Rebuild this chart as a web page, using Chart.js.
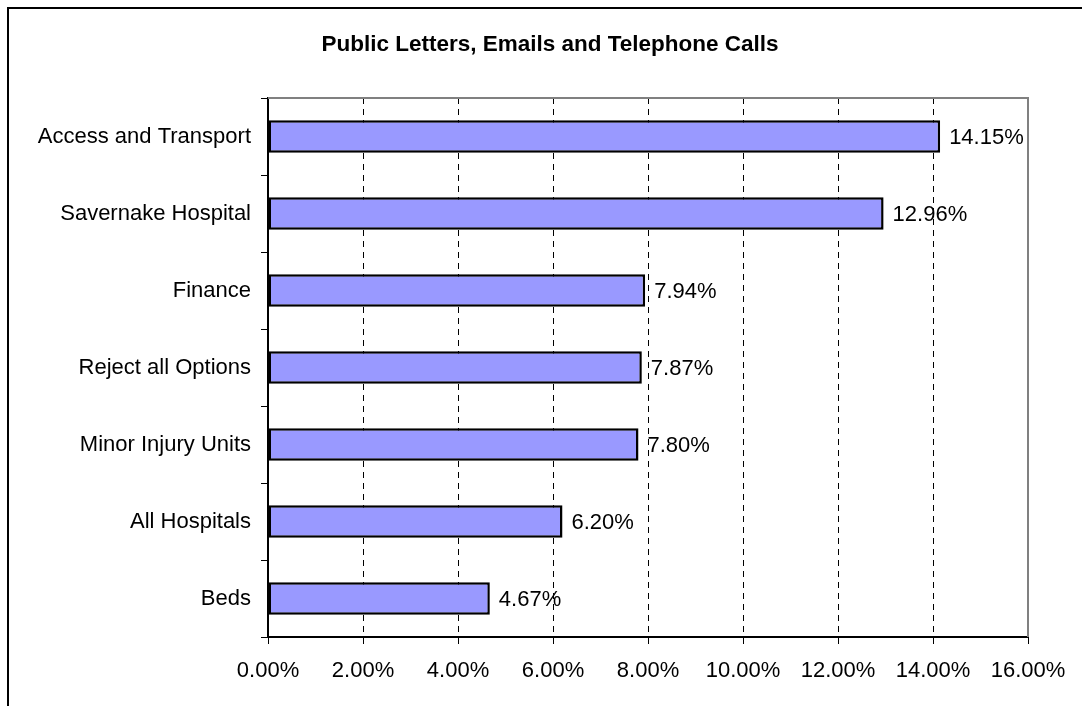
<!DOCTYPE html>
<html>
<head>
<meta charset="utf-8">
<script src="https://cdn.jsdelivr.net/npm/chart.js@4.4.0/dist/chart.umd.min.js"></script>
<style>
body { margin: 0; background: #fff; overflow: hidden; }
#wrap { position: relative; width: 1082px; height: 706px; overflow: hidden; }
#frame { position: absolute; left: 7px; top: 7px; width: 1200px; height: 800px; border: 2px solid #000; }
#chart { position: absolute; left: 0; top: 0; }
</style>
</head>
<body>
<div id="wrap">
  <div id="frame"></div>
  <canvas id="chart" width="1082" height="706"></canvas>
</div>
<script>
var title = "Public Letters, Emails and Telephone Calls";
var categories = [
  "Access and Transport",
  "Savernake Hospital",
  "Finance",
  "Reject all Options",
  "Minor Injury Units",
  "All Hospitals",
  "Beds"
];
var values = [14.15, 12.96, 7.94, 7.87, 7.80, 6.20, 4.67];
var xTicks = [0, 2, 4, 6, 8, 10, 12, 14, 16];

var fontFam = '"Liberation Sans", Arial, sans-serif';
Chart.defaults.font.family = fontFam;
Chart.defaults.color = '#000';

// value labels, plot frame and title
var extras = {
  id: 'extras',
  afterDatasetsDraw: function(chart) {
    var ctx = chart.ctx;
    var a = chart.chartArea;
    ctx.save();
    ctx.strokeStyle = '#808080';
    ctx.lineWidth = 2;
    ctx.beginPath();
    ctx.moveTo(a.left, a.top);
    ctx.lineTo(a.right, a.top);
    ctx.lineTo(a.right, a.bottom);
    ctx.stroke();

    ctx.fillStyle = '#000';
    ctx.font = '22px ' + fontFam;
    ctx.textBaseline = 'middle';
    ctx.textAlign = 'left';
    chart.getDatasetMeta(0).data.forEach(function(bar, i) {
      ctx.fillText(values[i].toFixed(2) + '%', bar.x + 9, bar.y + 1);
    });

    ctx.font = 'bold 22.5px ' + fontFam;
    ctx.textAlign = 'center';
    ctx.fillText(title, 550, 45);
    ctx.restore();
  }
};

var ctx = document.getElementById('chart');
var chart = new Chart(ctx, {
  type: 'bar',
  data: {
    labels: categories,
    datasets: [{
      data: values,
      backgroundColor: '#9999FF',
      borderColor: '#000',
      borderWidth: 2.5,
      borderSkipped: false,
      categoryPercentage: 1,
      barPercentage: 0.42
    }]
  },
  options: {
    indexAxis: 'y',
    responsive: false,
    animation: false,
    layout: { padding: { top: 98, right: 54, bottom: 0, left: 0 } },
    plugins: {
      legend: { display: false },
      tooltip: { enabled: false }
    },
    scales: {
      x: {
        min: 0,
        max: 16,
        afterBuildTicks: function(s) {
          s.ticks = xTicks.map(function(v) { return { value: v }; });
        },
        afterFit: function(s) { s.height = 69; },
        ticks: {
          font: { size: 22 },
          color: '#000',
          padding: 14,
          maxRotation: 0,
          callback: function(v) { return v.toFixed(2) + '%'; }
        },
        grid: {
          color: function(c) {
            var v = c.tick ? c.tick.value : -1;
            return (v === 0 || v === 16) ? 'rgba(0,0,0,0)' : '#000';
          },
          tickColor: '#000',
          tickLength: 7,
          lineWidth: 1
        },
        border: { color: '#000', width: 2, dash: [6, 5] }
      },
      y: {
        afterFit: function(s) { s.width = 268; },
        ticks: { font: { size: 22 }, color: '#000', padding: 10 },
        grid: {
          drawOnChartArea: false,
          offset: true,
          color: '#000',
          tickLength: 7
        },
        border: { color: '#000', width: 2 }
      }
    }
  },
  plugins: [extras]
});
</script>
</body>
</html>
